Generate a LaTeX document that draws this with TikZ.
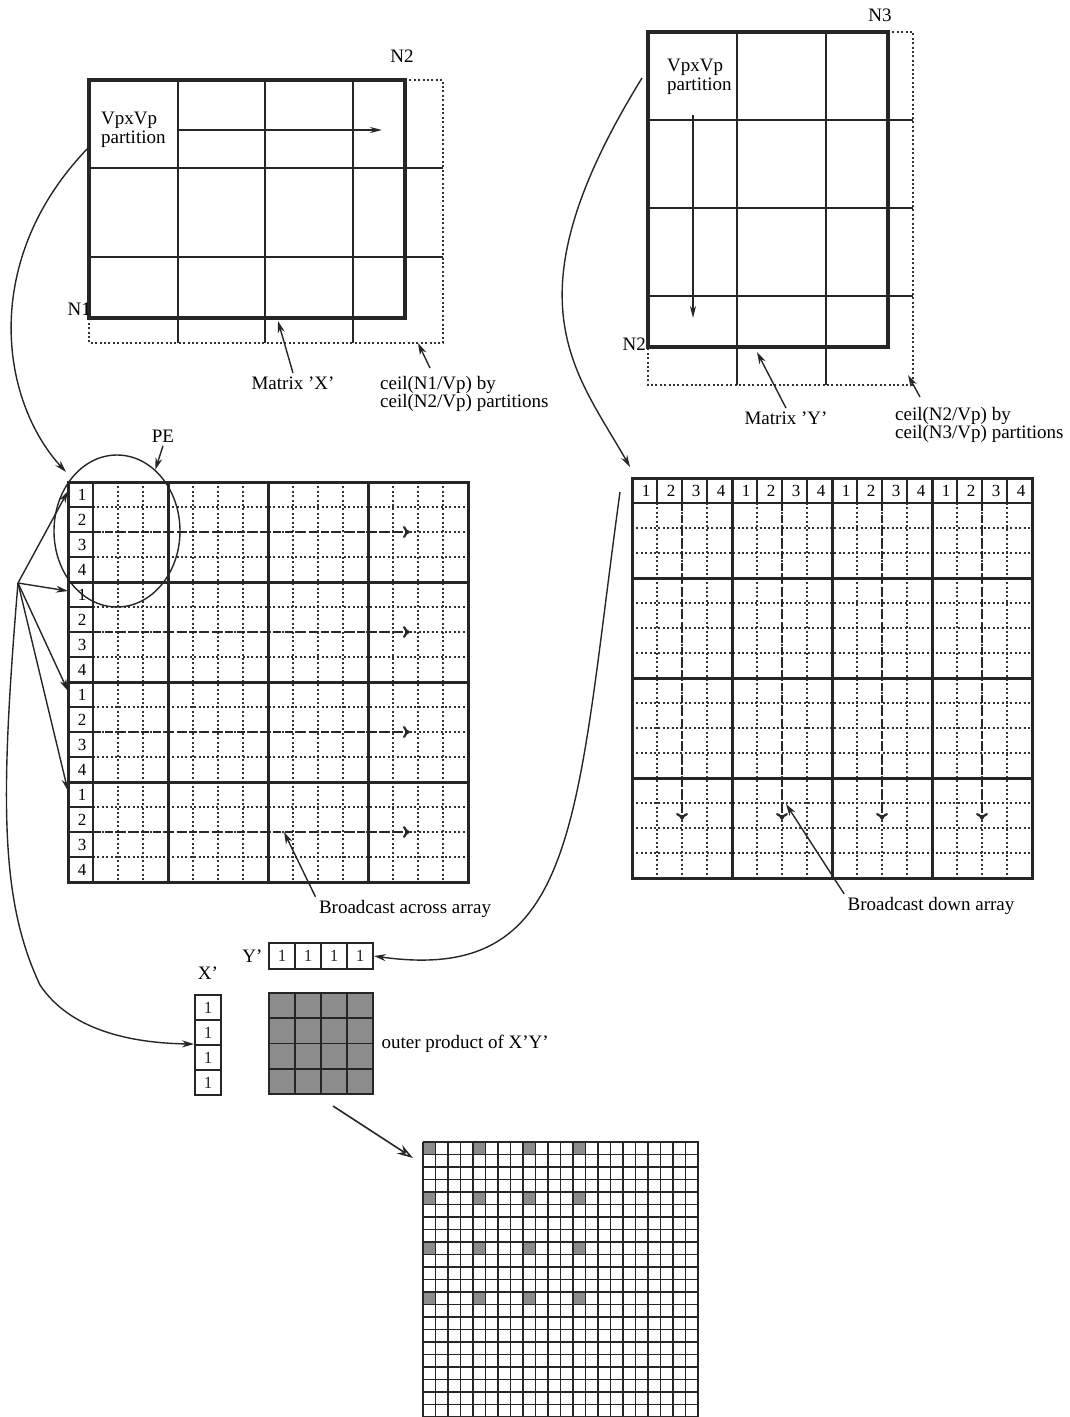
\documentclass[tikz,border=0pt]{standalone}
\usepackage{fontspec}
\setmainfont{Liberation Serif}
\usetikzlibrary{positioning,arrows.meta,calc,shapes.geometric}

\begin{document}
\begin{tikzpicture}[
    x=1pt, y=-1pt,
    font=\fontsize{19}{18.5}\selectfont,
    arr/.style={-{Stealth[length=12pt,width=7pt]}, line width=1.4pt, black!85},
    heavy/.style={line width=4.2pt, black!85},
    blk/.style={line width=3pt, black!85},
    thin/.style={line width=1.9pt, black!85},
    dotln/.style={line width=2pt, black!80, dash pattern=on 2pt off 2.4pt},
    bcast/.style={line width=2.8pt, black!85, dash pattern=on 8pt off 4pt,
                  -{Computer Modern Rightarrow[length=7pt,width=12pt,line width=2.2pt]}},
    num/.style={font=\fontsize{17}{17}\selectfont, inner sep=0pt},
    cell/.style={draw, thin, minimum width=26pt, minimum height=#1, inner sep=0pt,
                 font=\fontsize{17}{17}\selectfont},
    lbl/.style={inner sep=0pt, align=left},
  ]
  \useasboundingbox (0,0) rectangle (1070,1417);

  % matrix X, padded to whole partitions
  \draw[dotln] (405,80) -| (443,343) -| (89,318);
  \foreach \x in {178,265,353} \draw[thin] (\x,80) -- (\x,343);
  \foreach \y in {168,257} \draw[thin] (89,\y) -- (443,\y);
  \draw[heavy] (89,80) rectangle (405,318);
  \coordinate (xa) at (178,130);
  \coordinate (xb) at (382,130);
  \draw[thin, -{Stealth[length=12pt,width=6pt]}] (xa) -- (xb);
  \node[lbl, anchor=north west] (xpart) at (101,112) {VpxVp\\partition};
  \node (xn2) at (402,56) {N2};
  \node[anchor=east, inner sep=0pt] (xn1) at (91,309) {N1};
  \node (xname) at (293,383) {Matrix 'X'};
  \node[lbl, anchor=north west] (xceil) at (380,376) {ceil(N1/Vp) by\\ceil(N2/Vp) partitions};
  \coordinate (xbot) at (278,321);
  \coordinate (xpad) at (418,343);
  \coordinate (xfrom) at (88,148);
  \draw[arr] (xname.north) -- (xbot);
  \draw[arr] (xceil.north west) ++(50,-8) -- (xpad);

  % matrix Y, padded to whole partitions
  \draw[dotln] (888,32) -| (913,385) -| (648,347);
  \foreach \x in {737,826} \draw[thin] (\x,32) -- (\x,385);
  \foreach \y in {120,208,296} \draw[thin] (648,\y) -- (913,\y);
  \draw[heavy] (648,32) rectangle (888,347);
  \coordinate (ya) at (693,115);
  \coordinate (yb) at (693,318);
  \draw[thin, -{Stealth[length=12pt,width=6pt]}] (ya) -- (yb);
  \node[lbl, anchor=north west] (ypart) at (667,59) {VpxVp\\partition};
  \node (yn3) at (880,15) {N3};
  \node[anchor=east, inner sep=0pt] (yn2) at (646,344) {N2};
  \node (yname) at (786,418) {Matrix 'Y'};
  \node[lbl, anchor=north west] (yceil) at (895,407) {ceil(N2/Vp) by\\ceil(N3/Vp) partitions};
  \coordinate (ybot) at (757,352);
  \coordinate (ypad) at (908,375);
  \coordinate (yfrom) at (642,78);
  \draw[arr] (yname.north) -- (ybot);
  \draw[arr] (yceil.north west) ++(25,-10) -- (ypad);

  % X spread across the PE array
  \begin{scope}[shift={(68,482)}]
    \foreach \i in {1,...,15} {
      \draw[dotln] (25,\i*25) -- (400,\i*25);
      \draw[dotln] (\i*25,0) -- (\i*25,400);
      \draw[thin] (0,\i*25) -- (25,\i*25);
    }
    \draw[thin] (25,0) -- (25,400);
    \foreach \b in {0,...,3} {
      \draw[bcast] (25,\b*100+50) -- (342,\b*100+50);
      \foreach \r in {1,...,4}
        \node[num] (xl\b\r) at (14,\b*100+\r*25-12.5) {\r};
      \coordinate (xrow\b) at (0,\b*100+9);
    }
    \foreach \k in {100,200,300} {
      \draw[blk] (0,\k) -- (400,\k);
      \draw[blk] (\k,0) -- (\k,400);
    }
    \draw[blk] (0,0) rectangle (400,400);
    \coordinate (xtl) at (-2,-10);
    \coordinate (xhit) at (216,350);
  \end{scope}
  \node[draw, ellipse, line width=1.4pt, black!85, minimum width=126pt, minimum height=152pt,
        inner sep=0pt] (pe) at (117,531) {};
  \node (pelbl) at (163,436) {PE};
  \draw[arr] (pelbl.south) -- (pe.58);
  \node (bacross) at (405,909) {Broadcast across array};
  \draw[arr] (bacross.north west) -- (xhit);

  % Y spread down the PE array
  \begin{scope}[shift={(632,478)}]
    \foreach \i in {1,...,15} {
      \draw[dotln] (\i*25,25) -- (\i*25,400);
      \draw[thin] (\i*25,0) -- (\i*25,25);
    }
    \foreach \j in {2,3,5,6,7,9,10,11,13,14,15}
      \draw[dotln] (0,\j*25) -- (400,\j*25);
    \draw[thin] (0,25) -- (400,25);
    \foreach \b in {0,...,3} {
      \draw[bcast] (\b*100+50,25) -- (\b*100+50,342);
      \foreach \c in {1,...,4}
        \node[num] (yl\b\c) at (\b*100+\c*25-11,12.5) {\c};
    }
    \foreach \k in {100,200,300} {
      \draw[blk] (0,\k) -- (400,\k);
      \draw[blk] (\k,0) -- (\k,400);
    }
    \draw[blk] (0,0) rectangle (400,400);
    \coordinate (ytl) at (-2,-11);
    \coordinate (yleft) at (-12,14);
    \coordinate (yhit) at (154,326);
  \end{scope}
  \node (bdown) at (931,906) {Broadcast down array};
  \draw[arr] (bdown.north west) -- (yhit);

  % one PE: X' column, Y' row and their outer product
  \foreach \c in {1,...,4}
    \node[cell=26pt] (yc\c) at (256+\c*26,956) {\hfill1\hspace{3pt}};
  \foreach \r in {1,...,4}
    \node[cell=25pt] (xc\r) at (208,982.5+\r*25) {\hfill1\hspace{3pt}};
  \node[left=2pt of yc1] (ylbl) {Y'};
  \node[above=11pt of xc1] (xlbl) {X'};
  \node[draw, thin, fill=black!45, minimum width=104pt, minimum height=101pt, inner sep=0pt,
        outer sep=0pt, anchor=north west] (outer) at (269,993) {};
  \foreach \k in {1,2,3} {
    \draw[thin] (269+\k*26,993) -- (269+\k*26,1094);
    \draw[thin] (269,993+\k*25.25) -- (373,993+\k*25.25);
  }
  \node[right=5pt of outer] (outlbl) {outer product of X'Y'};

  % the whole product matrix
  \begin{scope}[shift={(423,1142)}]
    \foreach \i in {0,4,8,12}
      \foreach \j in {0,4,8,12}
        \fill[black!45] (\i*12.5,\j*12.5) rectangle ++(12.5,12.5);
    \foreach \i in {0,...,22} {
      \draw[line width=1.6pt, black!85] (\i*12.5,0) -- (\i*12.5,275);
      \draw[line width=1.6pt, black!85] (0,\i*12.5) -- (276,\i*12.5);
    }
    \coordinate (ztl) at (-10,16);
  \end{scope}
  \coordinate (zfrom) at (333,1106);
  \draw[-{Stealth[open,length=16pt,width=10pt]}, line width=1.6pt, black!85] (zfrom) -- (ztl);

  % connectors
  \coordinate (fan) at (18,583);
  \foreach \b in {0,...,3} \draw[arr] (fan) -- (xrow\b);
  \draw[arr] (xfrom) .. controls (-20,260) and (0,400) .. (xtl);
  \draw[arr] (yfrom) .. controls (505,300) and (575,370) .. (ytl);
  \draw[arr] (fan) .. controls (0,800) and (0,900) .. (40,985)
    .. controls (70,1030) and (130,1043) .. (xc3.north west);
  \draw[arr] (yleft) .. controls (575,820) and (580,985) .. (yc4.east);
\end{tikzpicture}
\end{document}
